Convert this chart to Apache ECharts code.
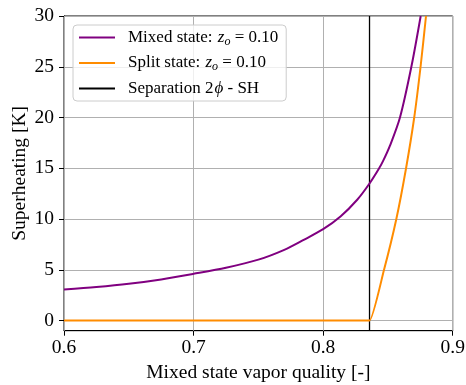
<!DOCTYPE html>
<html>
<head>
<meta charset="utf-8">
<script src="https://cdn.jsdelivr.net/npm/echarts@6/dist/echarts.min.js"></script>
<style>
  html, body { margin: 0; padding: 0; background: #fff; }
  #chart { width: 466px; height: 385px; }
</style>
</head>
<body>
<div id="chart"></div>
<script>
// Superheating versus mixed-state vapor quality
const mixedX = [0.6, 0.625, 0.65, 0.675, 0.7, 0.725, 0.75, 0.77, 0.785, 0.8, 0.8134, 0.8263, 0.8358, 0.843, 0.8464, 0.8515, 0.8593, 0.8681, 0.8753];
const mixedY = [3.05, 3.3, 3.62, 4.05, 4.6, 5.2, 6.0, 6.97, 7.95, 9.0, 10.25, 11.9, 13.5, 14.95, 15.75, 17.2, 20, 25, 30];

const splitX = [0.6, 0.835, 0.8358, 0.847, 0.8565, 0.864, 0.8703, 0.8752, 0.8794];
const splitY = [0, 0, 0, 5, 10, 15, 20, 25, 30];

const separationX = 0.8358;

const xTicks = [0.6, 0.7, 0.8, 0.9];
const yTicks = [0, 5, 10, 15, 20, 25, 30];
const xRange = [0.6, 0.9];
const yRange = [-1, 30];

const FONT = 'Liberation Serif';
const GRID_COLOR = '#b0b0b0';

const pairs = (xs, ys) => xs.map((x, i) => [x, ys[i]]);

const gridLines = [
  ...xTicks.map(v => ({ xAxis: v })),
  ...yTicks.map(v => ({ yAxis: v }))
];

const legendText = {
  'Mixed state': '{a|Mixed state: }{i|z}{s|o}{a| = 0.10}',
  'Split state': '{a|Split state: }{i|z}{s|o}{a| = 0.10}',
  'Separation': '{a|Separation 2}{i|ϕ}{a| - SH}'
};

const chart = echarts.init(document.getElementById('chart'), null, { renderer: 'canvas' });

chart.setOption({
  animation: false,
  backgroundColor: '#fff',
  textStyle: { fontFamily: FONT },
  grid: {
    left: 64, right: 13.3, top: 16, bottom: 54.3,
    outerBoundsMode: 'none',
    containLabel: false,
    show: true, borderColor: '#000', borderWidth: 1, backgroundColor: 'transparent'
  },
  legend: {
    orient: 'vertical',
    left: 73, top: 25,
    z: 20,
    data: ['Mixed state', 'Split state', 'Separation'],
    icon: 'rect',
    itemWidth: 36, itemHeight: 2,
    itemGap: 6,
    padding: [3, 8, 3, 6],
    borderColor: '#cccccc', borderWidth: 1, borderRadius: 4,
    backgroundColor: 'rgba(255,255,255,0.8)',
    formatter: name => legendText[name],
    textStyle: {
      fontFamily: FONT, fontSize: 17, color: '#000', lineHeight: 19,
      rich: {
        a: { fontFamily: FONT, fontSize: 17, color: '#000' },
        i: { fontFamily: FONT, fontSize: 17, fontStyle: 'italic', color: '#000', padding: [0, 0, 0, 1] },
        s: { fontFamily: FONT, fontSize: 12, fontStyle: 'italic', color: '#000', padding: [8, 0, 0, 0] }
      },
      padding: [0, 0, 0, 8]
    }
  },
  xAxis: {
    type: 'value',
    min: xRange[0], max: xRange[1],
    name: 'Mixed state vapor quality [-]',
    nameLocation: 'middle', nameGap: 32,
    nameMoveOverlap: false,
    nameTextStyle: { fontFamily: FONT, fontSize: 19.5, color: '#000' },
    axisLine: { show: true, onZero: false, lineStyle: { color: '#000', width: 1 } },
    axisTick: { show: true, inside: false, length: 5, customValues: xTicks, lineStyle: { color: '#000' } },
    axisLabel: { customValues: xTicks, margin: 7, fontFamily: FONT, fontSize: 19.5, color: '#000',
                 formatter: v => v.toFixed(1) },
    splitLine: { show: false }
  },
  yAxis: {
    type: 'value',
    min: yRange[0], max: yRange[1],
    name: 'Superheating [K]',
    nameLocation: 'middle', nameGap: 34,
    nameMoveOverlap: false,
    nameTextStyle: { fontFamily: FONT, fontSize: 19.5, color: '#000' },
    axisLine: { show: true, onZero: false, lineStyle: { color: '#000', width: 1 } },
    axisTick: { show: true, inside: false, length: 5, customValues: yTicks, lineStyle: { color: '#000' } },
    axisLabel: { customValues: yTicks, margin: 10, fontFamily: FONT, fontSize: 19.5, color: '#000',
                 formatter: v => String(v) },
    splitLine: { show: false }
  },
  series: [
    {
      name: 'grid',
      type: 'line',
      data: [],
      z: 1,
      silent: true,
      markLine: {
        silent: true,
        z: 1,
        symbol: 'none',
        label: { show: false },
        emphasis: { disabled: true },
        lineStyle: { color: GRID_COLOR, width: 1, type: 'solid' },
        data: gridLines
      }
    },
    {
      name: 'Mixed state',
      type: 'line',
      data: pairs(mixedX, mixedY),
      showSymbol: false,
      smooth: 0.3,
      z: 10,
      lineStyle: { color: '#800080', width: 2 },
      itemStyle: { color: '#800080' }
    },
    {
      name: 'Split state',
      type: 'line',
      data: pairs(splitX, splitY),
      showSymbol: false,
      smooth: 0.2,
      z: 10,
      lineStyle: { color: '#ff8c00', width: 2 },
      itemStyle: { color: '#ff8c00' }
    },
    {
      name: 'Separation',
      type: 'line',
      data: [[separationX, yRange[0]], [separationX, yRange[1]]],
      showSymbol: false,
      z: 8,
      lineStyle: { color: '#000', width: 1.3 },
      itemStyle: { color: '#000' }
    }
  ]
});
</script>
</body>
</html>
